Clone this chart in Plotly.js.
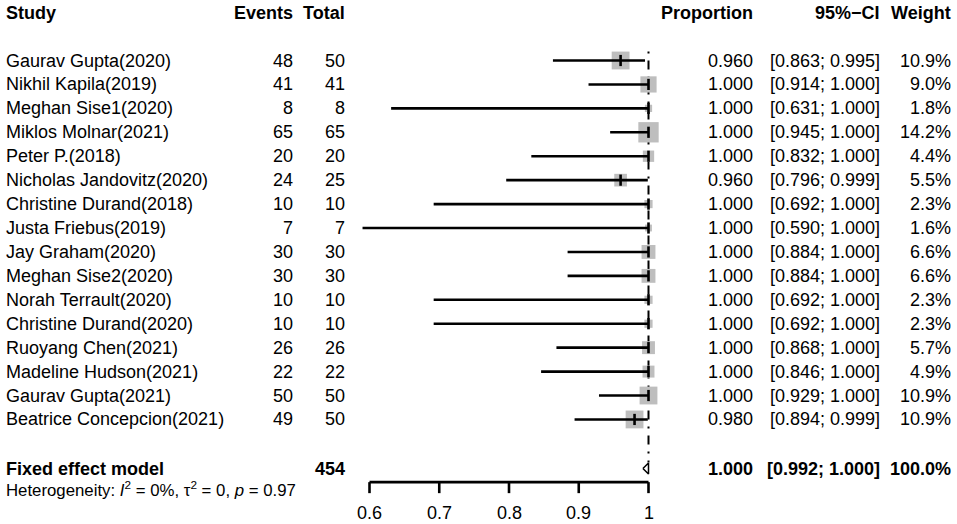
<!DOCTYPE html>
<html>
<head>
<meta charset="utf-8">
<script src="https://cdn.plot.ly/plotly-3.0.1.min.js"></script>
<style>html,body{margin:0;padding:0;background:#fff;}#chart{width:957px;height:524px;}</style>
</head>
<body>
<div id="chart"></div>
<script>
// ---- data ----
const studies = ["Gaurav Gupta(2020)", "Nikhil Kapila(2019)", "Meghan Sise1(2020)", "Miklos Molnar(2021)",
  "Peter P.(2018)", "Nicholas Jandovitz(2020)", "Christine Durand(2018)", "Justa Friebus(2019)",
  "Jay Graham(2020)", "Meghan Sise2(2020)", "Norah Terrault(2020)", "Christine Durand(2020)",
  "Ruoyang Chen(2021)", "Madeline Hudson(2021)", "Gaurav Gupta(2021)", "Beatrice Concepcion(2021)"];
const events = [48, 41, 8, 65, 20, 24, 10, 7, 30, 30, 10, 10, 26, 22, 50, 49];
const totals = [50, 41, 8, 65, 20, 25, 10, 7, 30, 30, 10, 10, 26, 22, 50, 50];
const proportion = [0.960, 1.000, 1.000, 1.000, 1.000, 0.960, 1.000, 1.000, 1.000, 1.000, 1.000, 1.000, 1.000, 1.000, 1.000, 0.980];
const ciLower = [0.863, 0.914, 0.631, 0.945, 0.832, 0.796, 0.692, 0.590, 0.884, 0.884, 0.692, 0.692, 0.868, 0.846, 0.929, 0.894];
const ciUpper = [0.995, 1.000, 1.000, 1.000, 1.000, 0.999, 1.000, 1.000, 1.000, 1.000, 1.000, 1.000, 1.000, 1.000, 1.000, 0.999];
const weights = [10.9, 9.0, 1.8, 14.2, 4.4, 5.5, 2.3, 1.6, 6.6, 6.6, 2.3, 2.3, 5.7, 4.9, 10.9, 10.9];

const fixedLabel = "Fixed effect model";
const fixedTotal = 454;
const fixedEst = 1.000, fixedLower = 0.992, fixedUpper = 1.000, fixedWeight = 100.0;
const hetText = "Heterogeneity: <i>I</i><sup>2</sup> = 0%, τ<sup>2</sup> = 0, <i>p</i> = 0.97";

const headers = ["Study", "Events", "Total", "Proportion", "95%\u2212CI", "Weight"];
const tickVals = [0.6, 0.7, 0.8, 0.9, 1.0];
const tickText = ["0.6", "0.7", "0.8", "0.9", "1"];

// ---- layout helpers ----
const W = 957, H = 524;
const FONT = "Liberation Sans, Arial, Helvetica, sans-serif";
const firstRow = 2;
const rows = studies.map((_, i) => firstRow + i);
const fixedRow = 19.05;
const hetRow = 19.9;
const axisRow = 19.62;
const tickEndRow = 20.08;
const tickLabelRow = 20.92;
const px = p => p / W;

const col = {study: 4, events: 295, total: 347, prop: 755, ci: 882, weight: 953};

const ann = [];
function txt(x, y, t, anchor, size, bold) {
  ann.push({xref: 'paper', yref: 'y', x: px(x), y: y, text: bold ? '<b>' + t + '</b>' : t,
    xanchor: anchor, yanchor: 'middle', showarrow: false,
    font: {family: FONT, size: size || 18, color: '#000'}});
}
// headers
txt(col.study, 0, headers[0], 'left', 18, true);
txt(col.events, 0, headers[1], 'right', 18, true);
txt(col.total, 0, headers[2], 'right', 18, true);
txt(col.prop, 0, headers[3], 'right', 18, true);
txt(col.ci, 0, headers[4], 'right', 18, true);
txt(col.weight, 0, headers[5], 'right', 18, true);
// studies
studies.forEach((s, i) => {
  const r = rows[i];
  txt(col.study, r, s, 'left');
  txt(col.events, r, String(events[i]), 'right');
  txt(col.total, r, String(totals[i]), 'right');
  txt(col.prop, r, proportion[i].toFixed(3), 'right');
  txt(col.ci, r, '[' + ciLower[i].toFixed(3) + '; ' + ciUpper[i].toFixed(3) + ']', 'right');
  txt(col.weight, r, weights[i].toFixed(1) + '%', 'right');
});
// fixed effect
txt(col.study, fixedRow, fixedLabel, 'left', 18, true);
txt(col.total, fixedRow, String(fixedTotal), 'right', 18, true);
txt(col.prop, fixedRow, fixedEst.toFixed(3), 'right', 18, true);
txt(col.ci, fixedRow, '[' + fixedLower.toFixed(3) + '; ' + fixedUpper.toFixed(3) + ']', 'right', 18, true);
txt(col.weight, fixedRow, fixedWeight.toFixed(1) + '%', 'right', 18, true);
txt(col.study, hetRow, hetText, 'left', 16.8, false);
// tick labels
tickVals.forEach((v, i) => {
  ann.push({xref: 'x', yref: 'y', x: v, y: tickLabelRow, text: tickText[i], xanchor: 'center',
    yanchor: 'middle', showarrow: false, font: {family: FONT, size: 18, color: '#000'}});
});

// ---- traces ----
const traces = [];
// fixed effect reference line
traces.push({x: [fixedEst, fixedEst], y: [1.62, 18.8], mode: 'lines', hoverinfo: 'skip',
  line: {color: '#000', width: 2, dash: '2px,7px,9px,7px'}});
// squares
traces.push({x: proportion, y: rows, mode: 'markers', hoverinfo: 'skip',
  marker: {symbol: 'square', color: '#bebebe', opacity: 1, size: weights.map(w => 5.4 * Math.sqrt(w)), line: {width: 0}}});
// CI lines
const cx = [], cy = [];
ciLower.forEach((l, i) => { cx.push(l, ciUpper[i], null); cy.push(rows[i], rows[i], null); });
traces.push({x: cx, y: cy, mode: 'lines', hoverinfo: 'skip', line: {color: '#000', width: 2.6}});
// point estimates
traces.push({x: proportion, y: rows, mode: 'markers', hoverinfo: 'skip',
  marker: {symbol: 'line-ns', size: 8, color: '#000', line: {color: '#000', width: 2.6}}});
// diamond
const dh = 0.23;
traces.push({x: [fixedLower, fixedEst, fixedUpper, fixedEst, fixedLower],
  y: [fixedRow, fixedRow - dh, fixedRow, fixedRow + dh, fixedRow],
  mode: 'lines', fill: 'toself', fillcolor: '#fff', hoverinfo: 'skip',
  line: {color: '#000', width: 1.5}});
// axis line
traces.push({x: [tickVals[0], tickVals[tickVals.length - 1]], y: [axisRow, axisRow], mode: 'lines',
  hoverinfo: 'skip', line: {color: '#000', width: 2.6}});
// ticks
const tx = [], ty = [];
tickVals.forEach(v => { tx.push(v, v, null); ty.push(axisRow, tickEndRow, null); });
traces.push({x: tx, y: ty, mode: 'lines', hoverinfo: 'skip', line: {color: '#000', width: 2.6}});

// x mapping: 0.6 -> 369.5px, 1.0 -> 648.5px
const scale = (648.5 - 369.5) / 0.4;
const xr = [0.6 - 369.5 / scale, 0.6 + (W - 369.5) / scale];
// y mapping: row 2 -> 60.5px, step 23.93px
const step = 23.93;
const yr = [firstRow + (H - 60.5) / step, firstRow - 60.5 / step];

const layout = {
  width: W, height: H, margin: {l: 0, r: 0, t: 0, b: 0},
  paper_bgcolor: '#fff', plot_bgcolor: '#fff', showlegend: false,
  xaxis: {range: xr, visible: false, fixedrange: true},
  yaxis: {range: yr, visible: false, fixedrange: true},
  annotations: ann
};
Plotly.newPlot('chart', traces, layout, {staticPlot: true, displayModeBar: false});
</script>
</body>
</html>
